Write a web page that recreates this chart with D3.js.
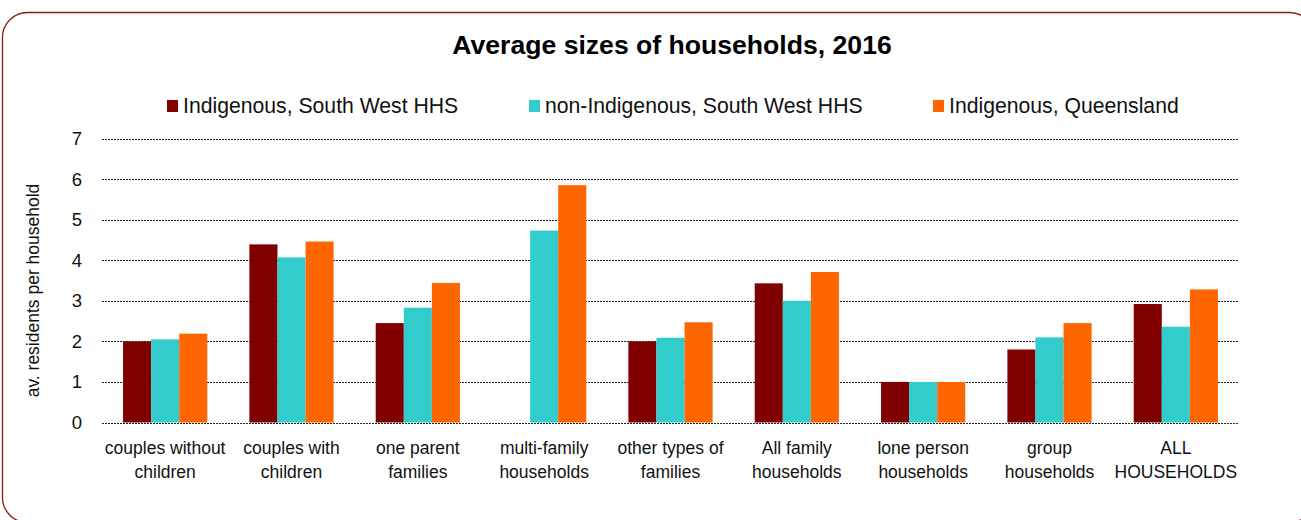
<!DOCTYPE html>
<html>
<head>
<meta charset="utf-8">
<title>Average sizes of households, 2016</title>
<script src="https://cdn.jsdelivr.net/npm/d3@7"></script>
<style>
  html, body { margin: 0; padding: 0; background: #fff; }
  svg { display: block; font-family: "Liberation Sans", Arial, sans-serif; }
  .grid line { stroke: #222; stroke-width: 1; stroke-dasharray: 2 1; shape-rendering: crispEdges; }
  .tick-label { font-size: 18.5px; fill: #111; }
  .cat-label { font-size: 17.5px; fill: #111; }
  .legend-text { font-size: 21.2px; fill: #111; }
</style>
</head>
<body>
<svg id="chart"></svg>
<script>
(function () {
  "use strict";

  const categories = [
    ["couples without", "children"],
    ["couples with", "children"],
    ["one parent", "families"],
    ["multi-family", "households"],
    ["other types of", "families"],
    ["All family", "households"],
    ["lone person", "households"],
    ["group", "households"],
    ["ALL", "HOUSEHOLDS"]
  ];
  const seriesNames = [
    "Indigenous, South West HHS",
    "non-Indigenous, South West HHS",
    "Indigenous, Queensland"
  ];
  const colors = ["#800000", "#33cccc", "#ff6600"];

  const indigenousSW = [2.00, 4.39, 2.45, null, 2.00, 3.43, 1.00, 1.80, 2.92];
  const nonIndigenousSW = [2.05, 4.07, 2.83, 4.73, 2.09, 3.00, 1.00, 2.10, 2.36];
  const indigenousQld = [2.19, 4.46, 3.44, 5.85, 2.47, 3.71, 1.00, 2.45, 3.28];

  const yTicks = [0, 1, 2, 3, 4, 5, 6, 7];

  const W = 1301, H = 520;
  const seriesValues = [indigenousSW, nonIndigenousSW, indigenousQld];
  const catKeys = categories.map(c => c.join(" "));

  const svg = d3.select("#chart").attr("width", W).attr("height", H);

  // outer rounded frame
  svg.append("rect")
    .attr("x", 2.5).attr("y", 12.5)
    .attr("width", 1312).attr("height", 510)
    .attr("rx", 25).attr("ry", 25)
    .attr("fill", "none")
    .attr("stroke", "#8c1b1b")
    .attr("stroke-width", 1.3);

  svg.append("text")
    .attr("x", 672).attr("y", 53.5)
    .attr("text-anchor", "middle")
    .style("font-size", "26.6px")
    .style("font-weight", "bold")
    .attr("fill", "#000")
    .text("Average sizes of households, 2016");

  const x0 = d3.scaleBand().domain(catKeys).range([102, 1239]).padding(0);
  const step = x0.bandwidth();
  const x1 = d3.scaleBand().domain(seriesNames).range([step / 6, step * 5 / 6]).padding(0);
  const y = d3.scaleLinear().domain([0, 7]).range([422.5, 138.5]);

  // gridlines
  svg.append("g").attr("class", "grid")
    .selectAll("line")
    .data(yTicks)
    .join("line")
    .attr("x1", 102).attr("x2", 1239)
    .attr("y1", d => Math.round(y(d)) + 0.5)
    .attr("y2", d => Math.round(y(d)) + 0.5);

  svg.append("g")
    .selectAll("text")
    .data(yTicks)
    .join("text")
    .attr("class", "tick-label")
    .attr("x", 82)
    .attr("y", d => y(d) + 6.5)
    .attr("text-anchor", "end")
    .text(d => d);

  svg.append("text")
    .attr("transform", `translate(39,${(y(0) + y(7)) / 2 + 10}) rotate(-90)`)
    .attr("text-anchor", "middle")
    .style("font-size", "17.5px")
    .attr("fill", "#111")
    .text("av. residents per household");

  // bars
  const groups = svg.append("g")
    .selectAll("g")
    .data(catKeys)
    .join("g")
    .attr("transform", d => `translate(${x0(d)},0)`);

  groups.selectAll("rect")
    .data((d, i) => seriesNames.map((s, j) => ({ series: s, color: colors[j], value: seriesValues[j][i] }))
      .filter(v => v.value != null))
    .join("rect")
    .attr("x", d => x1(d.series))
    .attr("width", x1.bandwidth())
    .attr("y", d => y(d.value))
    .attr("height", d => y(0) - y(d.value))
    .attr("fill", d => d.color);

  // category labels
  const labels = svg.append("g")
    .selectAll("text")
    .data(categories)
    .join("text")
    .attr("class", "cat-label")
    .attr("text-anchor", "middle")
    .attr("x", (d, i) => x0(catKeys[i]) + step / 2)
    .attr("y", 453.5);
  labels.selectAll("tspan")
    .data(d => d)
    .join("tspan")
    .attr("x", function () { return d3.select(this.parentNode).attr("x"); })
    .attr("dy", (d, i) => i === 0 ? 0 : 24)
    .text(d => d);

  // legend
  const legendX = [167, 529, 933];
  const legend = svg.append("g")
    .selectAll("g")
    .data(seriesNames)
    .join("g")
    .attr("transform", (d, i) => `translate(${legendX[i]},100)`);
  legend.append("rect")
    .attr("width", 11).attr("height", 12)
    .attr("fill", (d, i) => colors[i]);
  legend.append("text")
    .attr("class", "legend-text")
    .attr("x", 16).attr("y", 12.5)
    .text(d => d);
})();
</script>
</body>
</html>
